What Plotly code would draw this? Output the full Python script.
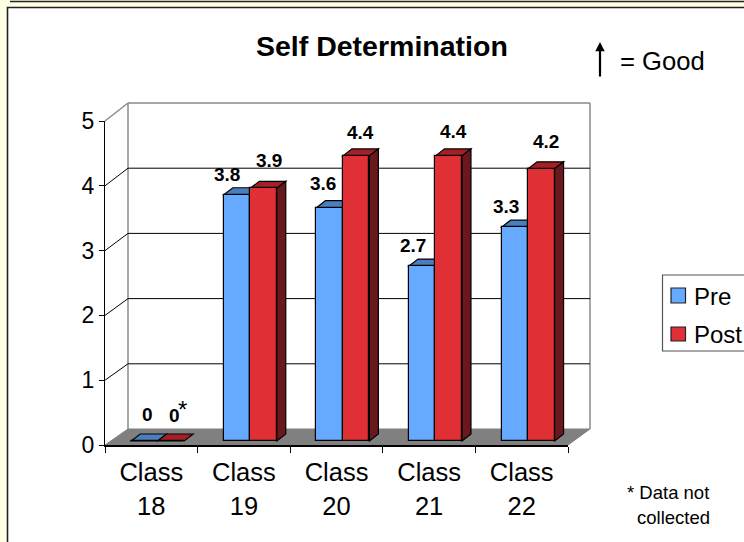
import plotly.graph_objects as go

categories = ["Class<br>18", "Class<br>19", "Class<br>20", "Class<br>21", "Class<br>22"]
pre_values = [0, 3.8, 3.6, 2.7, 3.3]
post_values = [0, 3.9, 4.4, 4.4, 4.2]

FONT = "Liberation Sans, Arial, sans-serif"
W, H = 744, 542
L, R, T, B = 105, 568, 121, 445
PW, PH = R - L, B - T
CAT = PW / 5
UNIT = PH / 5

BLUE, BLUE_TOP = "#66AAFF", "#4A7FBF"
RED, RED_TOP, RED_SIDE = "#E03036", "#A52026", "#6B181C"
GREY = "#808080"
PAGE = "#FFFFE3"


def px(x):
    return (x - L) / PW


def py(y):
    return (B - y) / PH


def poly(points, fill, line="black", width=1.2):
    path = "M" + " L".join(f"{px(a):.5f},{py(b):.5f}" for a, b in points) + " Z"
    return dict(type="path", path=path, xref="paper", yref="paper", fillcolor=fill,
                line=dict(color=line, width=width), layer="below")


def seg(x0, y0, x1, y1, color="black", width=1.0):
    return dict(type="line", xref="paper", yref="paper", x0=px(x0), y0=py(y0), x1=px(x1), y1=py(y1),
                line=dict(color=color, width=width), layer="below")


def box(x0, y0, x1, y1, fill, line="black", width=1.2):
    return dict(type="rect", xref="paper", yref="paper", x0=px(x0), y0=py(y0), x1=px(x1), y1=py(y1),
                fillcolor=fill, line=dict(color=line, width=width), layer="below")


shapes = [
    box(7.5, 7.5, 760, 560, "white", "#222222", 1.6),
    seg(10, 1.5, 760, 1.5, "#222222", 1.6),
    seg(128, 103, 590, 103, "#8a8a8a", 1.5),
    seg(128, 103, 128, 429, "#8a8a8a", 1.5),
    seg(590, 103, 590, 429, "#8a8a8a", 1.5),
    seg(105, 121, 128, 103, "#8a8a8a", 1.5),
    box(662.5, 275, 760, 351, "white", "#555555", 1.2),
    box(671, 288, 685.5, 303, BLUE, "#222222", 1.2),
    box(671, 327, 685.5, 341, RED, "#222222", 1.2),
]
for g in range(1, 5):
    yb = 429 - g * (429 - 103) / 5
    yf = B - g * UNIT
    shapes.append(seg(128, yb, 590, yb))
    shapes.append(seg(L, yf, 128, yb))
shapes.append(poly([(105, 445), (128, 429), (590, 429), (568, 445)], GREY, GREY, 1))

# bar geometry, all in axis units
BAR_W = 0.286
SHIFT = 0.069
BASE = 4 / UNIT
DX, DY = 9 / CAT, 7 / UNIT


def face(points, fill):
    path = "M" + " L".join(f"{a:.4f},{b:.4f}" for a, b in points) + " Z"
    return dict(type="path", path=path, xref="x", yref="y", fillcolor=fill,
                line=dict(color="black", width=1.2), layer="below")


centers = [i + 0.5 for i in range(len(categories))]
for c, a, b in zip(centers, pre_values, post_values):
    m = c + SHIFT
    ta, tb = a + BASE, b + BASE
    right = m if a > 0 else m + DX
    shapes.append(face([(m - BAR_W, ta), (m - BAR_W + DX, ta + DY), (right, ta + DY), (m, ta)], BLUE_TOP))
    shapes.append(face([(m, tb), (m + DX, tb + DY), (m + BAR_W + DX, tb + DY), (m + BAR_W, tb)], RED_TOP))
    if b > 0:
        shapes.append(face([(m + BAR_W, BASE), (m + BAR_W + DX, BASE + DY), (m + BAR_W + DX, tb + DY), (m + BAR_W, tb)], RED_SIDE))

fig = go.Figure()
fig.add_bar(name="Pre", x=centers, y=pre_values, base=BASE, width=BAR_W, offset=SHIFT - BAR_W,
            marker=dict(color=BLUE, line=dict(color="black", width=1.2)))
fig.add_bar(name="Post", x=centers, y=post_values, base=BASE, width=BAR_W, offset=SHIFT,
            marker=dict(color=RED, line=dict(color="black", width=1.2)))

pre_off = [(3, 27), (-10, 20), (-7, 24), (-9, 21), (-9, 21)]
post_off = [(4, 26), (5, 28), (4, 23), (5, 24), (5, 27)]
annotations = []
for c, a, b, oa, ob in zip(centers, pre_values, post_values, pre_off, post_off):
    for v, sgn, off in ((a, -0.5, oa), (b, 0.5, ob)):
        annotations.append(dict(x=c + SHIFT + sgn * BAR_W, y=v + BASE, xref="x", yref="y", text=f"<b>{v:g}</b>",
                                showarrow=False, xshift=off[0], yshift=off[1],
                                font=dict(family=FONT, size=19, color="black")))


def note(text, x, y, size, anchor="center"):
    return dict(x=px(x), y=py(y), xref="paper", yref="paper", text=text, showarrow=False, xanchor=anchor,
                yanchor="middle", font=dict(family=FONT, size=size, color="black"))


annotations += [
    note("<b>Self Determination</b>", 382, 46, 28.5),
    note("= Good", 618, 61, 25.6, "left"),
    note("*", 182, 409, 24),
    note("* Data not", 625, 492, 18.5, "left"),
    note("collected", 635, 517, 18.5, "left"),
    note("Pre", 692, 296, 24, "left"),
    note("Post", 692, 334, 24, "left"),
    dict(x=px(600), y=py(42), xref="paper", yref="paper", ax=0, ay=36, axref="pixel", ayref="pixel",
         text="", showarrow=True, arrowhead=2, arrowsize=0.85, arrowwidth=2.2, arrowcolor="black"),
]

fig.update_layout(
    width=W, height=H, autosize=False,
    margin=dict(l=L, r=W - R, t=T, b=H - B, pad=0, autoexpand=False),
    paper_bgcolor=PAGE, plot_bgcolor="rgba(0,0,0,0)",
    font=dict(family=FONT, color="black"),
    shapes=shapes, annotations=annotations,
    xaxis=dict(range=[0, 5], tickmode="array", tickvals=centers, ticktext=categories, ticks="",
               tickfont=dict(family=FONT, size=25.5), showgrid=False, zeroline=False,
               showline=True, linecolor="black", linewidth=1.5, ticklabelstandoff=4,
               minor=dict(tickmode="array", tickvals=list(range(6)), ticks="outside", ticklen=6,
                          tickcolor="black", tickwidth=1.2, showgrid=False)),
    yaxis=dict(range=[0, 5], tickmode="array", tickvals=[0, 1, 2, 3, 4, 5], ticks="outside", ticklen=5,
               tickcolor="black", tickwidth=1.2, tickfont=dict(family=FONT, size=23), showgrid=False,
               zeroline=False, showline=True, linecolor="black", linewidth=1.2),
    showlegend=False,
    bargap=0,
)

fig.write_html("out.html", config=dict(displayModeBar=False),
               post_script="document.body.style.margin='0';document.documentElement.style.overflow='hidden';")
